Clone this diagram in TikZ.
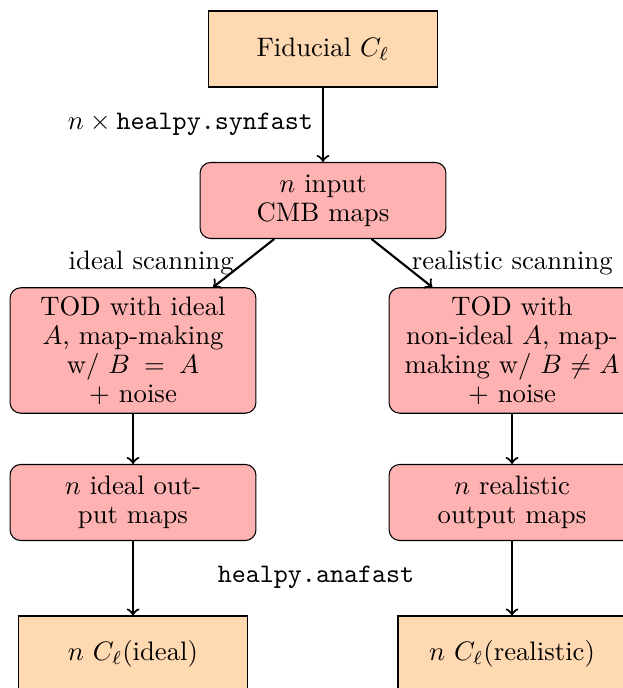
\documentclass[tikz,border=0pt]{standalone}
\begin{document}
\begin{tikzpicture}[x=0.0131579cm,y=-0.0131579cm,
  every node/.style={font=\fontsize{10}{10.8}\selectfont},
  sqbox/.style={draw=black, fill=orange!30, minimum width=3cm, minimum height=1cm},
  rndbox/.style={draw=black, fill=red!30, rounded corners=4pt, text width=3cm, align=center, minimum height=1cm},
  arr/.style={->, thick}]
\useasboundingbox (0,0) rectangle (622,688);
\node[sqbox] (fid) at (323,49) {Fiducial $C_\ell$};
\node[rndbox] (inp) at (323,200.5) {$n$ input\\CMB maps};
\node[rndbox] (tod1) at (133,350.5) {TOD with ideal\\$A$, map-making\\w/ $B = A$\\$+$ noise};
\node[rndbox] (tod2) at (512,350.5) {TOD with\\non-ideal $A$, map-\\making w/ $B \neq A$\\$+$ noise};
\node[rndbox] (out1) at (133,502.5) {$n$ ideal out-\\put maps};
\node[rndbox] (out2) at (512,502.5) {$n$ realistic\\output maps};
\node[sqbox] (cl1) at (133,654) {$n$ $C_\ell$(ideal)};
\node[sqbox] (cl2) at (512,654) {$n$ $C_\ell$(realistic)};
\node (ana) at (316,577) {\texttt{healpy.anafast}};
\draw[arr] (fid) -- node[left] {$n\times{}$\texttt{healpy.synfast}} (inp);
\draw[arr] (inp) -- node[left] {ideal scanning} (tod1);
\draw[arr] (inp) -- node[right] {realistic scanning} (tod2);
\draw[arr] (tod1) -- (out1);
\draw[arr] (tod2) -- (out2);
\draw[arr] (out1) -- (cl1);
\draw[arr] (out2) -- (cl2);
\end{tikzpicture}
\end{document}
